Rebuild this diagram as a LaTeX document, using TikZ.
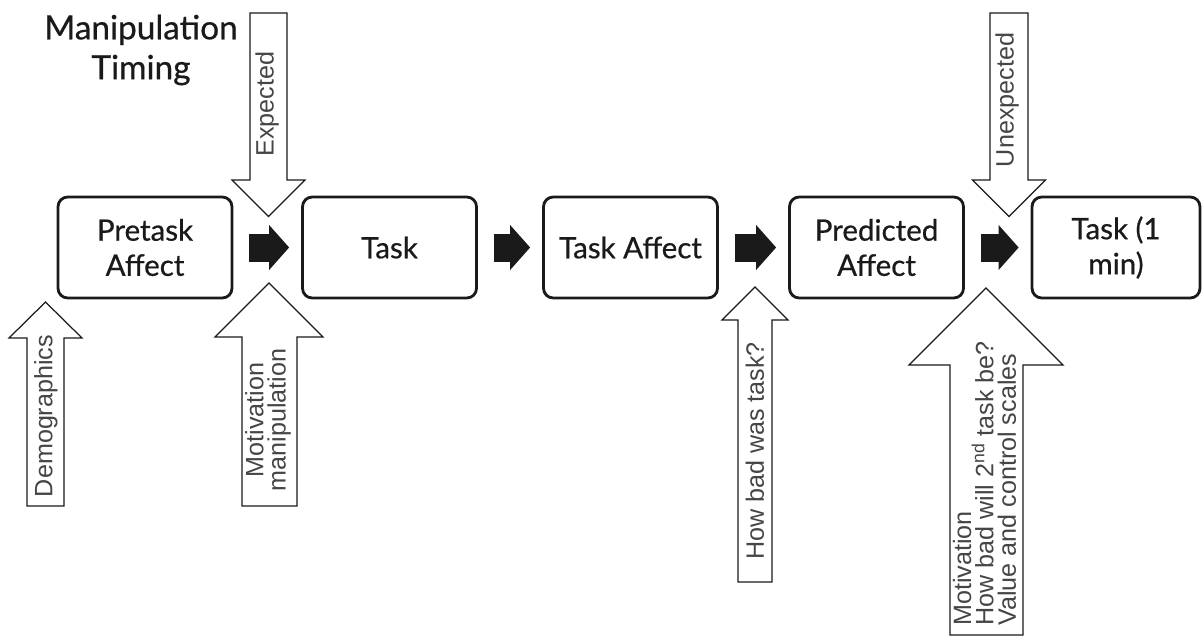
\documentclass[tikz,border=0pt]{standalone}
\usepackage{fontspec}
\setmainfont{Lato}[FakeBold=0.6]
\newfontfamily\armfont{Liberation Sans}
\usetikzlibrary{arrows.meta}
\definecolor{ink}{HTML}{1A1A1A}
\definecolor{pencil}{HTML}{454545}
\tikzset{fig/.style={line join=round,>=Stealth}}
\tikzset{
  stage/.style={draw=ink,line width=1.6pt,rounded corners=5.5pt,minimum width=3.48cm,minimum height=2.02cm,
    align=center,text=ink,font=\fontsize{16.8}{20}\selectfont},
  flow/.style={ink,line width=0.56cm,shorten <=0.32cm,shorten >=0.24cm,
    -{Triangle[length=0.4cm,width=0.9cm,line width=0pt]}},
  hollow/.style={draw=ink,line width=0.7pt,fill=white,line join=miter},
  armtext/.style={rotate=90,inner sep=0pt,text=pencil,align=center,font=\armfont\fontsize{14.3}{12.8}\selectfont}
}

\begin{document}
\begin{tikzpicture}[fig,x=0.02cm,y=-0.02cm]
  \useasboundingbox (0,0) rectangle (1202,639);
  \node[align=center,text=ink,font=\fontsize{19}{22.7}\selectfont] (title) at (141,50) {Manipulation\\Timing};
  % stages
  \node[stage] (pre) at (145,247.5) {Pretask\\Affect};
  \node[stage] (task) at (389.5,247.5) {Task};
  \node[stage] (taff) at (630.5,247.5) {Task Affect};
  \node[stage] (pred) at (876.5,247.5) {Predicted\\Affect};
  \node[stage,minimum width=3.36cm] (task2) at (1116,247.5) {Task (1\\min)};
  \draw[flow] (pre) -- (task);
  \draw[flow] (task) -- (taff);
  \draw[flow] (taff) -- (pred);
  \draw[flow] (pred) -- (task2);
  % hollow arrows from above
  \draw[hollow] (250,13) -- (287,13) -- (287,180) -- (305,180) -- (268.5,216.5) -- (232,180) -- (250,180) -- cycle;
  \node[armtext] (expd) at (267,104) {Expected};
  \draw[hollow] (990,13) -- (1028,13) -- (1028,180) -- (1045.5,180) -- (1009,216.5) -- (972.5,180) -- (990,180) -- cycle;
  \node[armtext] (unexp) at (1007,100) {Unexpected};
  % hollow arrows from below
  \draw[hollow] (45.5,302) -- (82,338) -- (64,338) -- (64,506) -- (27,506) -- (27,338) -- (9,338) -- cycle;
  \node[armtext] (demo) at (46,416) {Demographics};
  \draw[hollow] (269,283) -- (323,337) -- (297,337) -- (297,506) -- (242,506) -- (242,337) -- (215,337) -- cycle;
  \node[armtext] (motm) at (268,420) {Motivation\\manipulation};
  \draw[hollow] (755,287) -- (788,320) -- (772,320) -- (772,582) -- (738,582) -- (738,320) -- (722,320) -- cycle;
  \node[armtext] (howbad) at (755,451) {How bad was task?};
  \draw[hollow] (986,288) -- (1063,365) -- (1023,365) -- (1023,635) -- (950,635) -- (950,365) -- (909,365) -- cycle;
  \node[armtext,align=left,anchor=west] (scales) at (984.5,626) {Motivation\\How bad will 2\textsuperscript{nd} task be?\\Value and control scales};
\end{tikzpicture}
\end{document}
